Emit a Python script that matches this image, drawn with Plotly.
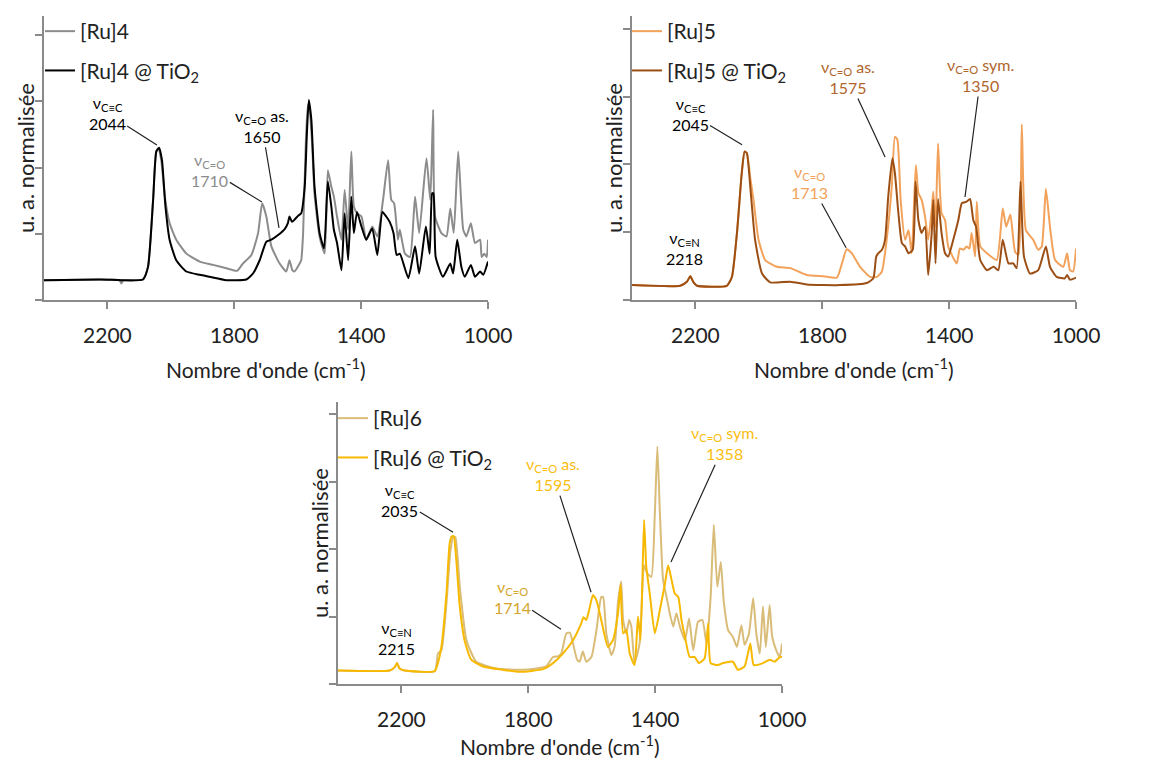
import plotly.graph_objects as go

# ---- data ----
# [Ru]4 and [Ru]4 @ TiO2
ru4_x = [2400, 2224, 2162, 2156, 2150, 2088, 2072, 2056, 2046, 2039, 2030, 2019, 2004, 1983, 1951, 1909,
         1867, 1825, 1791, 1773, 1746, 1725, 1712, 1699, 1683, 1657, 1636, 1626, 1617, 1610, 1594, 1589,
         1583, 1575, 1568, 1562, 1555, 1547, 1531, 1515, 1505, 1494, 1486, 1476, 1462, 1452, 1441, 1431,
         1423, 1413, 1399, 1384, 1365, 1349, 1331, 1315, 1305, 1296, 1284, 1278, 1262, 1246, 1230, 1217,
         1194, 1182, 1173, 1167, 1147, 1131, 1119, 1108, 1094, 1078, 1068, 1054, 1041, 1025, 1020, 1012,
         1004, 1000]
ru4_y = [0.30, 0.31, 0.30, 0.25, 0.30, 0.31, 0.50, 1.51, 2.24, 2.28, 2.10, 1.56, 1.16, 0.91, 0.70, 0.58,
         0.53, 0.48, 0.44, 0.55, 0.68, 1.01, 1.46, 1.26, 0.81, 0.55, 0.43, 0.60, 0.45, 0.43, 0.55, 0.60,
         1.01, 2.30, 2.95, 2.85, 2.40, 1.60, 0.95, 0.70, 1.96, 1.71, 1.56, 1.26, 0.91, 1.66, 1.06, 2.24,
         1.41, 1.31, 1.26, 0.91, 1.11, 0.96, 1.51, 2.11, 1.51, 1.46, 0.91, 1.06, 0.70, 0.65, 1.56, 1.01,
         2.14, 1.51, 2.87, 1.26, 1.01, 0.96, 1.38, 1.01, 2.24, 1.06, 0.96, 1.16, 0.86, 0.91, 0.65, 0.70,
         0.65, 0.91]
ru4ti_x = [2400, 2224, 2088, 2072, 2056, 2046, 2037, 2028, 2017, 2004, 1983, 1951, 1909, 1878, 1825, 1762,
           1741, 1720, 1699, 1683, 1662, 1641, 1631, 1626, 1618, 1599, 1589, 1578, 1571, 1565, 1557, 1547,
           1531, 1517, 1505, 1494, 1486, 1476, 1462, 1452, 1441, 1431, 1423, 1413, 1399, 1384, 1365, 1349,
           1333, 1321, 1310, 1298, 1288, 1278, 1251, 1230, 1217, 1196, 1184, 1176, 1172, 1165, 1142, 1119,
           1110, 1097, 1084, 1073, 1054, 1041, 1025, 1015, 1000]
ru4ti_y = [0.30, 0.31, 0.31, 0.50, 1.51, 2.24, 2.30, 2.11, 1.41, 0.91, 0.60, 0.43, 0.38, 0.35, 0.30, 0.31,
           0.40, 0.60, 0.88, 0.91, 0.98, 1.07, 1.16, 1.26, 1.18, 1.27, 1.31, 1.71, 2.52, 3.02, 2.72, 1.71,
           1.01, 0.78, 1.79, 1.41, 1.06, 0.86, 0.45, 1.31, 0.60, 1.56, 1.01, 1.33, 1.11, 0.91, 1.08, 0.68,
           1.33, 1.26, 1.18, 1.01, 0.68, 0.70, 0.33, 0.81, 0.40, 1.11, 0.70, 1.61, 1.61, 0.65, 0.35, 0.55,
           0.40, 0.91, 0.50, 0.35, 0.53, 0.35, 0.43, 0.38, 0.58]

# [Ru]5 and [Ru]5 @ TiO2
ru5_x = [2400, 2248, 2227, 2216, 2206, 2195, 2101, 2085, 2069, 2054, 2045, 2038, 2027, 2017, 2001, 1980,
         1943, 1901, 1849, 1796, 1754, 1738, 1723, 1707, 1681, 1649, 1628, 1612, 1597, 1581, 1571, 1563,
         1553, 1539, 1528, 1518, 1505, 1497, 1487, 1476, 1466, 1455, 1450, 1443, 1435, 1424, 1413, 1403,
         1376, 1366, 1355, 1345, 1336, 1329, 1318, 1313, 1302, 1281, 1250, 1231, 1220, 1207, 1192, 1181,
         1171, 1158, 1135, 1119, 1108, 1095, 1082, 1066, 1040, 1028, 1019, 1009, 1000]
ru5_y = [0.22, 0.21, 0.27, 0.35, 0.26, 0.21, 0.21, 0.34, 0.99, 1.87, 2.19, 2.17, 1.80, 1.48, 0.89, 0.59,
         0.49, 0.47, 0.37, 0.35, 0.33, 0.54, 0.75, 0.69, 0.49, 0.34, 0.34, 0.42, 0.89, 1.67, 2.41, 2.36,
         1.48, 0.89, 1.03, 0.69, 1.99, 1.58, 1.48, 1.23, 0.89, 1.33, 1.60, 1.08, 2.31, 1.28, 1.18, 0.79,
         0.54, 0.76, 0.74, 0.79, 0.76, 0.99, 0.64, 1.45, 0.79, 0.69, 0.59, 1.35, 1.08, 1.26, 0.71, 0.67,
         2.59, 1.03, 0.89, 0.74, 0.79, 1.64, 1.08, 0.59, 0.49, 0.69, 0.44, 0.42, 0.76]
ru5ti_x = [2400, 2248, 2227, 2216, 2206, 2195, 2101, 2085, 2069, 2054, 2045, 2038, 2027, 2012, 1990, 1964,
           1901, 1849, 1744, 1660, 1639, 1630, 1623, 1612, 1602, 1592, 1579, 1571, 1560, 1549, 1539, 1528,
           1515, 1506, 1497, 1487, 1476, 1466, 1455, 1450, 1443, 1435, 1424, 1413, 1403, 1387, 1371, 1360,
           1345, 1334, 1324, 1315, 1302, 1281, 1260, 1245, 1231, 1213, 1198, 1187, 1175, 1164, 1145, 1119,
           1095, 1082, 1061, 1035, 1028, 1019, 1000]
ru5ti_y = [0.22, 0.21, 0.27, 0.35, 0.26, 0.21, 0.21, 0.34, 0.99, 1.87, 2.19, 2.17, 1.67, 0.89, 0.39, 0.26,
           0.27, 0.23, 0.22, 0.25, 0.32, 0.64, 0.69, 0.74, 0.89, 1.53, 2.09, 1.87, 1.28, 0.84, 0.79, 0.69,
           0.74, 1.75, 1.18, 0.99, 1.08, 0.37, 0.99, 1.48, 0.54, 1.49, 0.99, 0.69, 0.64, 0.89, 1.18, 1.43,
           1.45, 1.49, 1.18, 1.08, 0.59, 0.44, 0.49, 0.44, 0.89, 0.54, 0.54, 0.47, 1.75, 0.64, 0.39, 0.44,
           0.79, 0.49, 0.34, 0.32, 0.37, 0.30, 0.33]

# [Ru]6 and [Ru]6 @ TiO2
ru6_x = [2400, 2237, 2221, 2214, 2206, 2190, 2095, 2085, 2074, 2058, 2046, 2037, 2030, 2016, 1995, 1964,
         1901, 1817, 1744, 1722, 1706, 1696, 1680, 1669, 1659, 1646, 1638, 1628, 1617, 1601, 1585, 1570,
         1564, 1554, 1538, 1528, 1517, 1507, 1501, 1491, 1482, 1475, 1465, 1449, 1435, 1425, 1412, 1401,
         1393, 1385, 1375, 1364, 1354, 1343, 1333, 1322, 1306, 1293, 1280, 1265, 1251, 1238, 1225, 1215,
         1204, 1193, 1184, 1170, 1155, 1142, 1128, 1118, 1104, 1091, 1081, 1070, 1060, 1051, 1039, 1031,
         1018, 1007, 1000]
ru6_y = [0.20, 0.20, 0.25, 0.31, 0.23, 0.20, 0.19, 0.45, 0.50, 1.20, 1.95, 2.18, 2.18, 1.44, 0.65, 0.33,
         0.23, 0.21, 0.26, 0.40, 0.41, 0.45, 0.75, 0.76, 0.60, 0.36, 0.33, 0.48, 0.33, 0.40, 0.80, 1.29,
         1.29, 0.75, 0.43, 0.55, 1.22, 1.52, 0.95, 0.75, 0.95, 0.85, 0.31, 0.60, 1.76, 1.64, 1.59, 2.53,
         3.52, 2.53, 1.54, 1.29, 1.05, 0.85, 1.05, 0.85, 0.65, 0.97, 0.50, 0.92, 0.95, 0.60, 1.29, 2.36,
         1.44, 1.81, 1.24, 0.80, 0.70, 0.55, 0.87, 0.58, 0.75, 1.27, 0.75, 0.45, 1.15, 0.55, 1.17, 0.70,
         0.50, 0.40, 0.60]
ru6ti_x = [2400, 2237, 2221, 2214, 2206, 2190, 2095, 2085, 2074, 2058, 2048, 2041, 2035, 2027, 2016, 2001,
           1980, 1943, 1880, 1827, 1754, 1722, 1691, 1659, 1633, 1626, 1617, 1607, 1596, 1585, 1570, 1549,
           1533, 1517, 1509, 1501, 1491, 1480, 1465, 1454, 1446, 1435, 1428, 1417, 1401, 1385, 1369, 1359,
           1348, 1338, 1327, 1317, 1306, 1291, 1275, 1262, 1244, 1233, 1225, 1202, 1186, 1155, 1139, 1118,
           1100, 1089, 1060, 1039, 1023, 1007, 1000]
ru6ti_y = [0.20, 0.20, 0.25, 0.31, 0.23, 0.20, 0.19, 0.31, 0.55, 1.34, 2.08, 2.19, 2.19, 1.84, 1.15, 0.65,
           0.36, 0.26, 0.21, 0.18, 0.22, 0.31, 0.45, 0.65, 0.90, 0.99, 0.95, 1.12, 1.32, 1.24, 0.95, 0.55,
           0.65, 1.05, 1.47, 0.75, 0.80, 0.45, 0.28, 1.00, 0.65, 2.43, 1.74, 1.34, 0.75, 1.10, 1.49, 1.76,
           1.54, 1.34, 1.29, 0.95, 0.70, 0.40, 0.40, 0.31, 0.38, 0.90, 0.31, 0.28, 0.31, 0.33, 0.21, 0.26,
           0.60, 0.28, 0.31, 0.36, 0.33, 0.40, 0.40]

x_ticks = [2200, 1800, 1400, 1000]
x_title = "Nombre d'onde (cm<sup>-1</sup>)"
y_title = "u. a. normalisée"

# band labels: panel, text, peak x, peak y, label x, label y, arrow?, colour
labels = [
    (1, "ν<sub>C≡C</sub><br>2044", 2044, 2.34, 2201, 2.82, True, "#000000"),
    (1, "ν<sub>C=O</sub><br>1710", 1713, 1.48, 1877, 1.96, True, "#8c8c8c"),
    (1, "ν<sub>C=O</sub> as.<br>1650", 1659, 1.09, 1713, 2.63, True, "#000000"),
    (2, "ν<sub>C≡N</sub><br>2218", None, None, 2233, 0.77, False, "#000000"),
    (2, "ν<sub>C≡C</sub><br>2045", 2053, 2.29, 2217, 2.75, True, "#000000"),
    (2, "ν<sub>C=O</sub><br>1713", 1725, 0.77, 1839, 1.74, True, "#f2a25a"),
    (2, "ν<sub>C=O</sub> as.<br>1575", 1602, 2.11, 1719, 3.29, True, "#b0652c"),
    (2, "ν<sub>C=O</sub> sym.<br>1350", 1350, 1.52, 1300, 3.32, True, "#b0652c"),
    (3, "ν<sub>C≡N</sub><br>2215", None, None, 2217, 0.68, False, "#000000"),
    (3, "ν<sub>C≡C</sub><br>2035", 2037, 2.25, 2205, 2.73, True, "#000000"),
    (3, "ν<sub>C=O</sub><br>1714", 1697, 0.81, 1851, 1.29, True, "#d4a52a"),
    (3, "ν<sub>C=O</sub> as.<br>1595", 1602, 1.36, 1722, 3.11, True, "#fbbd10"),
    (3, "ν<sub>C=O</sub> sym.<br>1358", 1350, 1.81, 1180, 3.57, True, "#fbbd10"),
]

FONT = "Lato"
W, H = 1160, 763
AX = "#8a8a8a"

fig = go.Figure()

series = [
    (1, "[Ru]4", ru4_x, ru4_y, "#8c8c8c"),
    (1, "[Ru]4 @ TiO<sub>2</sub>", ru4ti_x, ru4ti_y, "#000000"),
    (2, "[Ru]5", ru5_x, ru5_y, "#f2a25a"),
    (2, "[Ru]5 @ TiO<sub>2</sub>", ru5ti_x, ru5ti_y, "#9c4f14"),
    (3, "[Ru]6", ru6_x, ru6_y, "#d9bc78"),
    (3, "[Ru]6 @ TiO<sub>2</sub>", ru6ti_x, ru6ti_y, "#f7b900"),
]
for i, (p, name, xs, ys, col) in enumerate(series):
    sfx = "" if p == 1 else str(p)
    fig.add_trace(go.Scatter(x=xs, y=ys, mode="lines", name=name,
                             line=dict(color=col, width=2, shape="spline", smoothing=0.5),
                             xaxis="x" + sfx, yaxis="y" + sfx,
                             legend="legend" + sfx, legendgroup=str(i)))

# panel placement in pixels: left, right, top, bottom of the axes box, y max, x-title offset
boxes = {1: (44, 488, 16, 300, 4.287, 68), 2: (632, 1076, 16, 300, 4.19, 68),
         3: (338, 782, 402, 684, 4.18, 61)}
leg_pos = {1: (40, 11), 2: (627, 11), 3: (333, 398)}

axis_common = dict(showline=True, linecolor=AX, linewidth=1.5, ticks="outside", tickcolor=AX,
                   ticklen=7, tickwidth=1.5, showgrid=False, zeroline=False, automargin=False)
layout = dict()
for p, (l, r, t, b, ytop, _) in boxes.items():
    sfx = "" if p == 1 else str(p)
    layout["xaxis" + sfx] = dict(axis_common, domain=[l / W, r / W], range=[2400, 1000],
                                 tickvals=x_ticks, ticktext=[str(v) for v in x_ticks],
                                 tickfont=dict(size=21, color="#222"), ticklabelstandoff=9,
                                 anchor="y" + sfx)
    layout["yaxis" + sfx] = dict(axis_common, domain=[1 - b / H, 1 - t / H], range=[0, ytop],
                                 dtick=1, tick0=0, showticklabels=False, anchor="x" + sfx)
    lx, ly = leg_pos[p]
    layout["legend" + sfx] = dict(x=lx / W, y=1 - ly / H, xanchor="left", yanchor="top",
                                  font=dict(size=21, family=FONT, color="#222"),
                                  bgcolor="rgba(0,0,0,0)", tracegroupgap=9, itemwidth=30)

fig.update_layout(**layout)

# axis titles, placed under / left of each panel
for p, (l, r, t, b, ytop, off) in boxes.items():
    fig.add_annotation(x=(l + r) / 2 / W, y=1 - (b + off) / H, xref="paper", yref="paper",
                       text=x_title, showarrow=False, xanchor="center", yanchor="middle",
                       font=dict(size=21, color="#222", family=FONT))
    fig.add_annotation(x=(l - 19) / W, y=1 - (t + b) / 2 / H, xref="paper", yref="paper",
                       text=y_title, showarrow=False, textangle=-90, xanchor="center",
                       yanchor="middle", font=dict(size=22, color="#222", family=FONT))

for p, text, px_, py_, tx, ty, arrow, col in labels:
    sfx = "" if p == 1 else str(p)
    if arrow:
        fig.add_annotation(x=px_, y=py_, ax=tx, ay=ty, xref="x" + sfx, yref="y" + sfx,
                           axref="x" + sfx, ayref="y" + sfx, text=text, showarrow=True,
                           arrowhead=0, arrowwidth=1.2, arrowcolor="#222", standoff=0,
                           font=dict(size=16, color=col, family=FONT))
    else:
        fig.add_annotation(x=tx, y=ty, xref="x" + sfx, yref="y" + sfx, text=text,
                           showarrow=False, font=dict(size=16, color=col, family=FONT))

fig.update_layout(width=W, height=H, margin=dict(l=0, r=0, t=0, b=0),
                  paper_bgcolor="white", plot_bgcolor="white",
                  font=dict(family=FONT, color="#222"), showlegend=True)

fig.write_html("out.html", config={"displayModeBar": False},
               post_script="document.body.style.margin='0';")
